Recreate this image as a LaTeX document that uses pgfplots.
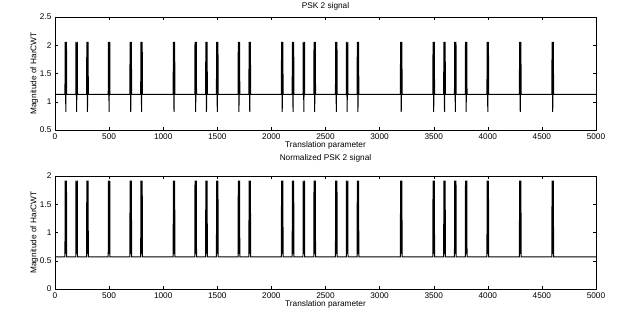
\documentclass[border=0pt]{standalone}
\usepackage{pgfplots}
\pgfplotsset{compat=1.18}
\usepackage{fontspec}
\setmainfont{Liberation Sans}
\begin{document}
\begin{tikzpicture}
\path[use as bounding box] (0bp,0bp) rectangle (628bp,316bp);
\pgfplotsset{
  every axis/.append style={
    scale only axis, width=541bp, height=113bp, anchor=south west,
    xmin=0, xmax=5000, xtick={0,500,...,5000},
    tick align=inside, major tick length=3bp,
    tick style={black, line width=0.4pt},
    axis line style={line width=0.6pt},
    font=\fontsize{8.3}{9.5}\selectfont,
    /pgf/number format/assume math mode=true,
    scaled x ticks=false, xticklabel style={/pgf/number format/1000 sep={}},
    xlabel={Translation parameter},
    ylabel={Magnitude of HarCWT},
    xlabel style={yshift=5bp},
    ylabel style={yshift=-5bp},
    title style={font=\fontsize{8.3}{9.5}\selectfont, inner sep=0pt},
    yticklabel style={/pgf/number format/fixed},
  }
}
\begin{axis}[at={(55bp,186bp)}, ymin=0.5, ymax=2.5, ytick={0.5,1,...,2.5},
  title={PSK 2 signal}, title style={at={(0.5,1)}, anchor=south, yshift=0.3bp}]
\addplot[black, line width=1pt] coordinates {
(0,1.13)
(92,1.13)(94,2.06)(100,0.82)(106,2.06)(108,1.13)
(192,1.13)(194,2.06)(200,0.82)(206,2.06)(208,1.13)
(292,1.13)(294,2.06)(300,0.82)(306,2.06)(308,1.13)
(492,1.13)(494,2.06)(500,0.82)(506,2.06)(508,1.13)
(692,1.13)(694,2.06)(700,0.82)(706,2.06)(708,1.13)
(792,1.13)(794,2.06)(800,0.82)(806,2.06)(808,1.13)
(1092,1.13)(1094,2.06)(1100,0.82)(1106,2.06)(1108,1.13)
(1292,1.13)(1294,2.06)(1300,0.82)(1306,2.06)(1308,1.13)
(1392,1.13)(1394,2.06)(1400,0.82)(1406,2.06)(1408,1.13)
(1492,1.13)(1494,2.06)(1500,0.82)(1506,2.06)(1508,1.13)
(1692,1.13)(1694,2.06)(1700,0.82)(1706,2.06)(1708,1.13)
(1792,1.13)(1794,2.06)(1800,0.82)(1806,2.06)(1808,1.13)
(2092,1.13)(2094,2.06)(2100,0.82)(2106,2.06)(2108,1.13)
(2192,1.13)(2194,2.06)(2200,0.82)(2206,2.06)(2208,1.13)
(2292,1.13)(2294,2.06)(2300,0.82)(2306,2.06)(2308,1.13)
(2392,1.13)(2394,2.06)(2400,0.82)(2406,2.06)(2408,1.13)
(2592,1.13)(2594,2.06)(2600,0.82)(2606,2.06)(2608,1.13)
(2692,1.13)(2694,2.06)(2700,0.82)(2706,2.06)(2708,1.13)
(2792,1.13)(2794,2.06)(2800,0.82)(2806,2.06)(2808,1.13)
(3192,1.13)(3194,2.06)(3200,0.82)(3206,2.06)(3208,1.13)
(3492,1.13)(3494,2.06)(3500,0.82)(3506,2.06)(3508,1.13)
(3592,1.13)(3594,2.06)(3600,0.82)(3606,2.06)(3608,1.13)
(3692,1.13)(3694,2.06)(3700,0.82)(3706,2.06)(3708,1.13)
(3792,1.13)(3794,2.06)(3800,0.82)(3806,2.06)(3808,1.13)
(3992,1.13)(3994,2.06)(4000,0.82)(4006,2.06)(4008,1.13)
(4292,1.13)(4294,2.06)(4300,0.82)(4306,2.06)(4308,1.13)
(4592,1.13)(4594,2.06)(4600,0.82)(4606,2.06)(4608,1.13)
(5000,1.13)
};
\end{axis}
\begin{axis}[at={(55bp,27bp)}, ymin=0, ymax=2, ytick={0,0.5,...,2},
  title={Normalized PSK 2 signal}, title style={at={(0.5,1)}, anchor=south, yshift=8bp}]
\addplot[black, line width=1pt] coordinates {
(0,0.57)
(92,0.57)(94,1.92)(100,0.62)(106,1.92)(108,0.57)
(192,0.57)(194,1.92)(200,0.62)(206,1.92)(208,0.57)
(292,0.57)(294,1.92)(300,0.62)(306,1.92)(308,0.57)
(492,0.57)(494,1.92)(500,0.62)(506,1.92)(508,0.57)
(692,0.57)(694,1.92)(700,0.62)(706,1.92)(708,0.57)
(792,0.57)(794,1.92)(800,0.62)(806,1.92)(808,0.57)
(1092,0.57)(1094,1.92)(1100,0.62)(1106,1.92)(1108,0.57)
(1292,0.57)(1294,1.92)(1300,0.62)(1306,1.92)(1308,0.57)
(1392,0.57)(1394,1.92)(1400,0.62)(1406,1.92)(1408,0.57)
(1492,0.57)(1494,1.92)(1500,0.62)(1506,1.92)(1508,0.57)
(1692,0.57)(1694,1.92)(1700,0.62)(1706,1.92)(1708,0.57)
(1792,0.57)(1794,1.92)(1800,0.62)(1806,1.92)(1808,0.57)
(2092,0.57)(2094,1.92)(2100,0.62)(2106,1.92)(2108,0.57)
(2192,0.57)(2194,1.92)(2200,0.62)(2206,1.92)(2208,0.57)
(2292,0.57)(2294,1.92)(2300,0.62)(2306,1.92)(2308,0.57)
(2392,0.57)(2394,1.92)(2400,0.62)(2406,1.92)(2408,0.57)
(2592,0.57)(2594,1.92)(2600,0.62)(2606,1.92)(2608,0.57)
(2692,0.57)(2694,1.92)(2700,0.62)(2706,1.92)(2708,0.57)
(2792,0.57)(2794,1.92)(2800,0.62)(2806,1.92)(2808,0.57)
(3192,0.57)(3194,1.92)(3200,0.62)(3206,1.92)(3208,0.57)
(3492,0.57)(3494,1.92)(3500,0.62)(3506,1.92)(3508,0.57)
(3592,0.57)(3594,1.92)(3600,0.62)(3606,1.92)(3608,0.57)
(3692,0.57)(3694,1.92)(3700,0.62)(3706,1.92)(3708,0.57)
(3792,0.57)(3794,1.92)(3800,0.62)(3806,1.92)(3808,0.57)
(3992,0.57)(3994,1.92)(4000,0.62)(4006,1.92)(4008,0.57)
(4292,0.57)(4294,1.92)(4300,0.62)(4306,1.92)(4308,0.57)
(4592,0.57)(4594,1.92)(4600,0.62)(4606,1.92)(4608,0.57)
(5000,0.57)
};
\end{axis}
\end{tikzpicture}
\end{document}
